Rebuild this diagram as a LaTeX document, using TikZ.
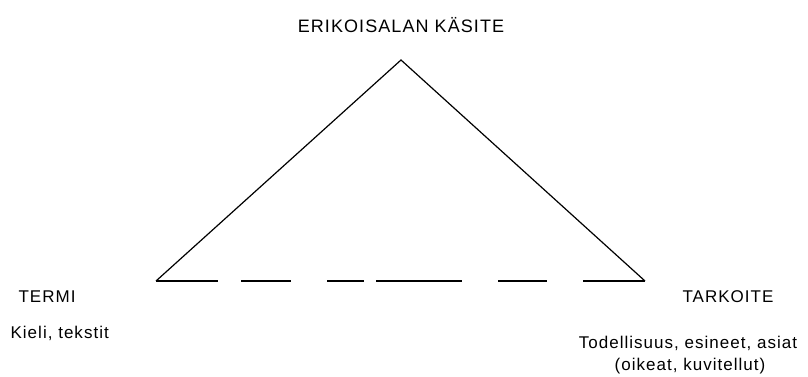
\documentclass[tikz,border=0pt]{standalone}
\usepackage{fontspec}
\setmainfont{Liberation Sans}[LetterSpace=6]
\usepackage{tikz}
\usetikzlibrary{positioning}

\begin{document}
\begin{tikzpicture}[x=1pt, y=-1pt, line width=1.2pt,
  every node/.style={font=\fontsize{17}{22}\selectfont, inner sep=0pt},
  label/.style={anchor=base}]
  \useasboundingbox (0,0) rectangle (808,377);
  % corners of the triangle
  \coordinate (apex) at (401,60);
  \coordinate (left) at (156,281);
  \coordinate (right) at (645,281);
  % sides
  \draw[line join=miter] (left) -- (apex) -- (right);
  % base, broken
  \draw[dash pattern=on 62pt off 23pt on 50pt off 36pt on 37pt off 12pt on 86pt off 36pt on 49pt off 36pt on 62pt off 10pt]
    (left) -- (right);
  % texts
  \node[label, font=\fontsize{18}{22}\selectfont] (kasite) at (401,33) {ERIKOISALAN KÄSITE};
  \node[label, anchor=base west] (termi) at (18,302) {TERMI};
  \node[label, anchor=base west] (kieli) at (10,338) {Kieli, tekstit};
  \node[label] (tarkoite) at (728,302) {TARKOITE};
  \node[label] (todellisuus) at (688,348) {Todellisuus, esineet, asiat};
  \node[label] (oikeat) at (690,370) {(oikeat, kuvitellut)};
\end{tikzpicture}
\end{document}
